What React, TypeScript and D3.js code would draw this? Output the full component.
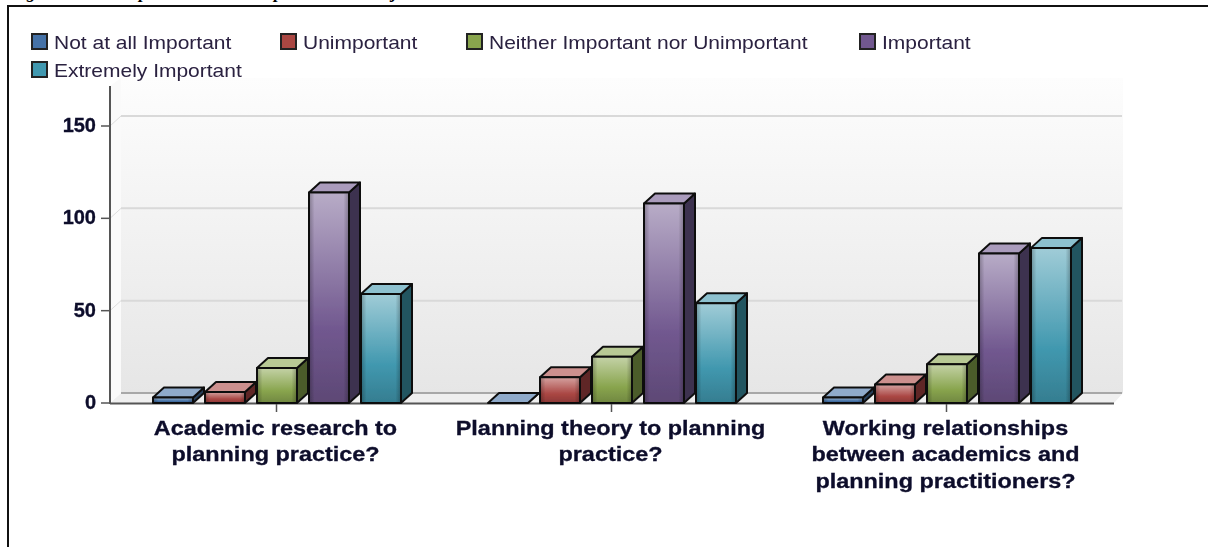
import React from "react";
import * as d3 from "d3";

const categories = [
  ["Academic research to", "planning practice?"],
  ["Planning theory to planning", "practice?"],
  ["Working relationships", "between academics and", "planning practitioners?"],
];
const seriesNames = ["Not at all Important", "Unimportant", "Neither Important nor Unimportant", "Important", "Extremely Important"];
const notAtAll = [3, 0, 3];
const unimportant = [6, 14, 10];
const neither = [19, 25, 21];
const important = [114, 108, 81];
const extremely = [59, 54, 84];
const seriesValues = [notAtAll, unimportant, neither, important, extremely];
const yTicks = [0, 50, 100, 150];
const captionFragments = ["g", "p", "p", "j"];
const captionX = [27, 139, 274, 392];

const baseColors = ["#4572A7", "#AA4643", "#89A54E", "#71588F", "#4198AF"];

const W = 1208, H = 547;
const DX = 11, DY = 10;
const y = d3.scaleLinear().domain([0, 150]).range([403, 126]);
const x0 = d3.scaleBand<number>().domain([0, 1, 2]).range([109, 1114]);
const seriesOffset = d3.scaleLinear().domain([0, 4]).range([-123.5, 84.5]);
const BAR_W = 40;
const FLOOR = 403;

const legendPos = [
  [32, 41.5], [281, 41.5], [467, 41.5], [860, 41.5], [32, 69.5],
];
const INK = "#0a0a2a";

function shade(c: string, k: number) {
  return k > 0 ? d3.interpolateRgb(c, "#ffffff")(k) : d3.interpolateRgb(c, "#000000")(-k);
}

export default function App() {
  const gridVals = [50, 100, 150];
  return (
    <svg width={W} height={H} style={{ position: "absolute", left: 0, top: 0, background: "#fff" }}>
      <defs>
        <linearGradient id="wall" x1="0" y1="0" x2="0" y2="1">
          <stop offset="0" stopColor="#fdfdfd" />
          <stop offset="1" stopColor="#e6e6e6" />
        </linearGradient>
        <linearGradient id="edge" x1="0" y1="0" x2="1" y2="0">
          <stop offset="0" stopColor="#000" stopOpacity="0.22" />
          <stop offset="0.12" stopColor="#000" stopOpacity="0" />
          <stop offset="0.88" stopColor="#000" stopOpacity="0" />
          <stop offset="1" stopColor="#000" stopOpacity="0.22" />
        </linearGradient>
        {baseColors.map((c, i) => (
          <linearGradient key={i} id={`front${i}`} x1="0" y1="0" x2="0" y2="1">
            <stop offset="0" stopColor={shade(c, 0.5)} />
            <stop offset="0.65" stopColor={c} />
            <stop offset="1" stopColor={shade(c, -0.18)} />
          </linearGradient>
        ))}
        <filter id="soft" x="0" y="0" width="100%" height="100%" filterUnits="userSpaceOnUse">
          <feGaussianBlur stdDeviation="0.4" />
        </filter>
      </defs>
      <text fontFamily="Liberation Serif" fontStyle="italic" fontWeight="bold" fontSize={18} fill="#000">
        {captionFragments.map((g, i) => (
          <tspan key={i} x={captionX[i]} y={-2}>{g}</tspan>
        ))}
      </text>
      <line x1={7} x2={W} y1={6} y2={6} stroke="#111" strokeWidth={2} />
      <line x1={8} x2={8} y1={5} y2={H} stroke="#111" strokeWidth={2} />
      <g filter="url(#soft)">
        {/* wall */}
        <rect x={121} y={78} width={1002} height={315} fill="url(#wall)" />
        <polygon points={`110,${FLOOR} 121,393 1123,393 1114,${FLOOR}`} fill="#efefef" />
        <polygon points={`110,86 121,78 121,393 110,${FLOOR}`} fill="#fafafa" />
        {gridVals.map((v) => (
          <g key={v}>
            <line x1={121} x2={1122} y1={y(v) - DY} y2={y(v) - DY} stroke="#d9d9d9" strokeWidth={2} />
            <line x1={110} x2={121} y1={y(v)} y2={y(v) - DY} stroke="#dddddd" strokeWidth={1} />
          </g>
        ))}
        <line x1={121} x2={1122} y1={393} y2={393} stroke="#a8a8a8" strokeWidth={2} />
        {/* axes */}
        <line x1={110} x2={110} y1={86} y2={404} stroke="#555" strokeWidth={2} />
        <line x1={110} x2={1114} y1={403.5} y2={403.5} stroke="#555" strokeWidth={2} />
        {yTicks.map((t) => (
          <g key={t}>
            <line x1={101} x2={110} y1={y(t)} y2={y(t)} stroke="#555" strokeWidth={1.5} />
            <text x={96} y={y(t) + 6} textAnchor="end" fontFamily="Liberation Sans" fontWeight="bold" fontSize={20} fill={INK} stroke={INK} strokeWidth={0.3}>{t}</text>
          </g>
        ))}
        {/* bars */}
        {categories.map((_, ci) => {
          const center = x0(ci)! + x0.bandwidth() / 2;
          return seriesValues.map((vals, si) => {
            const bx = center + seriesOffset(si);
            const top = y(vals[ci]);
            const c = baseColors[si];
            const stroke = "#111";
            const h = FLOOR - top;
            return (
              <g key={`${ci}-${si}`} strokeLinejoin="round">
                <polygon
                  points={`${bx + BAR_W},${top} ${bx + BAR_W + DX},${top - DY} ${bx + BAR_W + DX},${FLOOR - DY} ${bx + BAR_W},${FLOOR}`}
                  fill={shade(c, -0.45)} stroke={stroke} strokeWidth={2}
                />
                <polygon
                  points={`${bx},${top} ${bx + DX},${top - DY} ${bx + BAR_W + DX},${top - DY} ${bx + BAR_W},${top}`}
                  fill={shade(c, 0.4)} stroke={stroke} strokeWidth={2}
                />
                <rect x={bx} y={top} width={BAR_W} height={h} fill={`url(#front${si})`} stroke={stroke} strokeWidth={2} />
                <rect x={bx + 1} y={top + 1} width={BAR_W - 2} height={Math.max(h - 2, 0)} fill="url(#edge)" />
              </g>
            );
          });
        })}
        {categories.map((_, ci) => {
          const center = x0(ci)! + x0.bandwidth() / 2;
          return <line key={ci} x1={center} x2={center} y1={404} y2={412} stroke="#555" strokeWidth={1.5} />;
        })}
        {/* category labels */}
        {categories.map((lines, ci) => {
          const center = x0(ci)! + x0.bandwidth() / 2;
          return (
            <g key={ci} transform={`translate(${center - 1},0) scale(1.115,1)`}>
              <text textAnchor="middle" fontFamily="Liberation Sans" fontWeight="bold" fontSize={21} fill={INK} stroke={INK} strokeWidth={0.3}>
                {lines.map((l, i) => (
                  <tspan key={i} x={0} y={435 + i * 26.3}>{l}</tspan>
                ))}
              </text>
            </g>
          );
        })}
        {/* legend */}
        {seriesNames.map((s, i) => (
          <g key={s}>
            <rect x={legendPos[i][0]} y={legendPos[i][1] - 7.5} width={15} height={15} fill={baseColors[i]} stroke="#222" strokeWidth={2} />
            <g transform={`translate(${legendPos[i][0] + 22},${legendPos[i][1] + 7}) scale(1.105,1)`}>
              <text fontFamily="Liberation Sans" fontSize={19} fill="#2a2040">{s}</text>
            </g>
          </g>
        ))}
      </g>
    </svg>
  );
}
